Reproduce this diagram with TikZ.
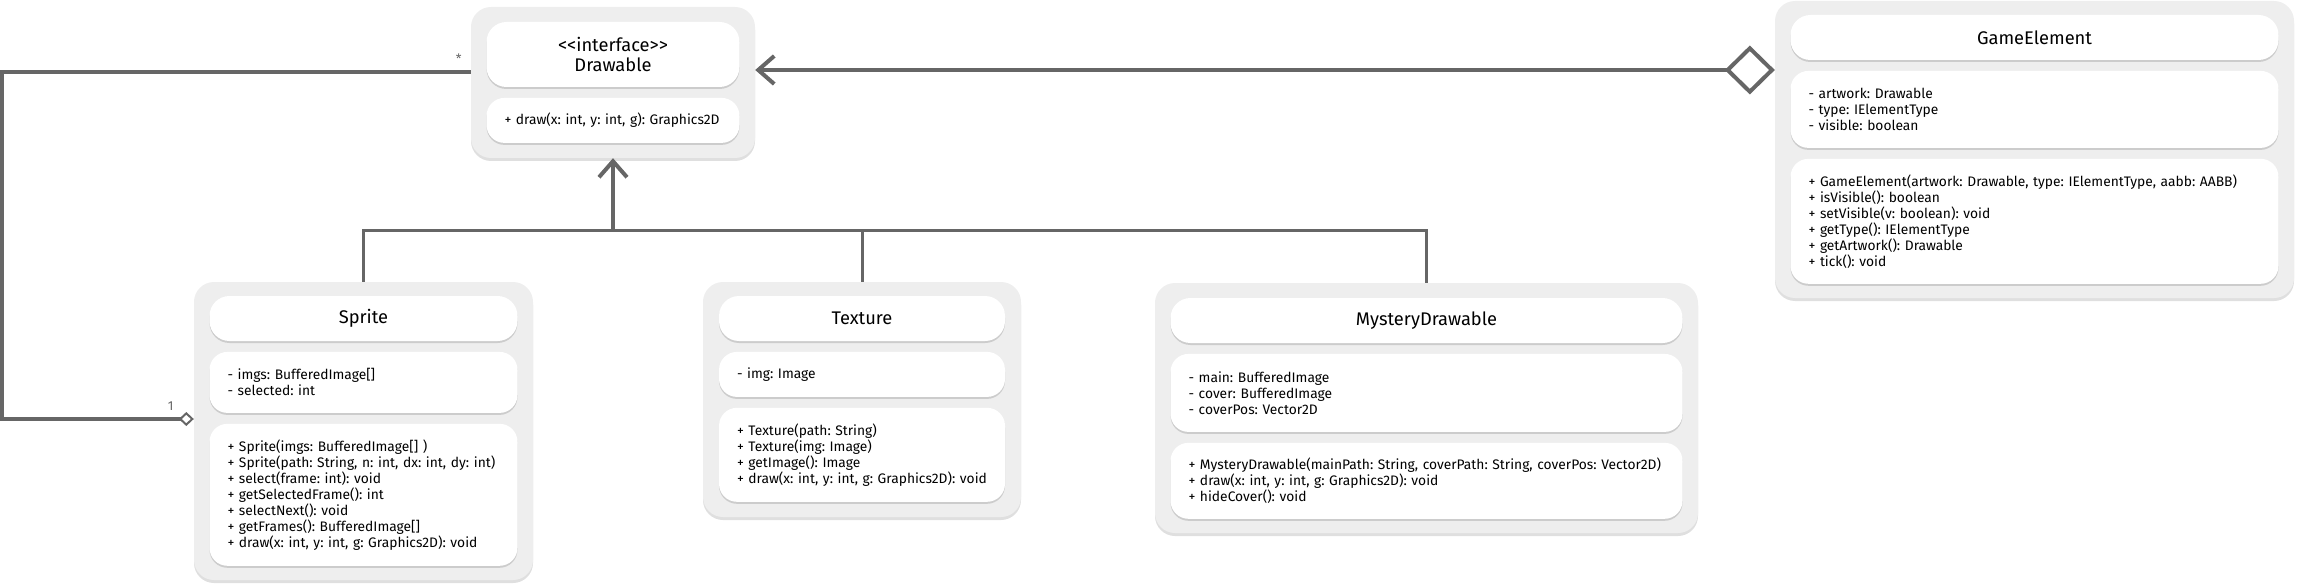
\documentclass[tikz,border=0pt]{standalone}
\usepackage{fontspec}
\setmainfont{Fira Sans}
\usetikzlibrary{positioning,arrows,arrows.meta,calc,shadows}
\definecolor{linegray}{HTML}{666666}
\definecolor{panelgray}{HTML}{EEEEEE}
\frenchspacing

\begin{document}
\begin{tikzpicture}[
      x=1pt, y=1pt,
      >=latex',
      node distance=10.5pt
    ]

    \tikzstyle{classbox} = [rectangle, rounded corners=20pt, fill=panelgray, drop shadow={shadow xshift=0pt, shadow yshift=-3pt, opacity=0.25}]
    \tikzstyle{titlebox} = [rectangle, rounded corners=20pt, fill=white, inner sep=0pt, align=center, font=\fontsize{18.3}{20}\selectfont, drop shadow={shadow xshift=0pt, shadow yshift=-2pt, opacity=0.3}]
    \tikzstyle{memberbox} = [rectangle, rounded corners=18pt, fill=white, inner xsep=18pt, inner ysep=0pt, align=left, font=\fontsize{13.8}{16}\selectfont, drop shadow={shadow xshift=0pt, shadow yshift=-2pt, opacity=0.3}]
    \tikzstyle{link} = [draw=linegray, line width=4pt]
    \tikzstyle{branch} = [draw=linegray, line width=3pt]

    \useasboundingbox (0,0) rectangle (2298,-588);

    % interface
    \node [classbox, minimum width=284pt, minimum height=151pt] (drawable) at (613,-82.5) {};
    \node [titlebox, minimum width=253pt, minimum height=65pt, below=15pt of drawable.north] (drawableTitle) {<\kern0pt<interface>\kern0pt>\\Drawable};
    \node [memberbox, text width=217pt, minimum height=45pt, below=of drawableTitle] (drawableOps) {+ draw(x: int, y: int, g): Graphics2D};

    % game element
    \node [classbox, minimum width=519pt, minimum height=297pt] (gameelement) at (2034.5,-149.5) {};
    \node [titlebox, minimum width=488pt, minimum height=45pt, below=14pt of gameelement.north] (gameTitle) {GameElement};
    \node [memberbox, text width=452pt, minimum height=77pt, below=of gameTitle] (gameAttr) {- artwork: Drawable\\- type: IElementType\\- visible: boolean};
    \node [memberbox, text width=452pt, minimum height=125pt, below=of gameAttr] (gameOps) {+ GameElement(artwork: Drawable, type: IElementType, aabb: AABB)\\+ isVisible(): boolean\\+ setVisible(v: boolean): void\\+ getType(): IElementType\\+ getArtwork(): Drawable\\+ tick(): void};

    % sprite
    \node [classbox, minimum width=339pt, minimum height=298pt] (sprite) at (363.5,-431) {};
    \node [titlebox, minimum width=308pt, minimum height=45pt, below=14pt of sprite.north] (spriteTitle) {Sprite};
    \node [memberbox, text width=272pt, minimum height=61pt, below=of spriteTitle] (spriteAttr) {- imgs: BufferedImage[]\\- selected: int};
    \node [memberbox, text width=272pt, minimum height=142pt, below=of spriteAttr] (spriteOps) {+ Sprite(imgs: BufferedImage[] )\\+ Sprite(path: String, n: int, dx: int, dy: int)\\+ select(frame: int): void\\+ getSelectedFrame(): int\\+ selectNext(): void\\+ getFrames(): BufferedImage[]\\+ draw(x: int, y: int, g: Graphics2D): void};

    % texture
    \node [classbox, minimum width=318pt, minimum height=235pt] (texture) at (862,-399.5) {};
    \node [titlebox, minimum width=286pt, minimum height=45pt, below=14pt of texture.north] (textureTitle) {Texture};
    \node [memberbox, text width=250pt, minimum height=45pt, below=of textureTitle] (textureAttr) {- img: Image};
    \node [memberbox, text width=250pt, minimum height=94pt, below=of textureAttr] (textureOps) {+ Texture(path: String)\\+ Texture(img: Image)\\+ getImage(): Image\\+ draw(x: int, y: int, g: Graphics2D): void};

    % mystery drawable
    \node [classbox, minimum width=543pt, minimum height=250pt] (mystery) at (1426.5,-408) {};
    \node [titlebox, minimum width=512pt, minimum height=45pt, below=15pt of mystery.north] (mysteryTitle) {MysteryDrawable};
    \node [memberbox, text width=476pt, minimum height=78pt, below=of mysteryTitle] (mysteryAttr) {- main: BufferedImage\\- cover: BufferedImage\\- coverPos: Vector2D};
    \node [memberbox, text width=476pt, minimum height=76pt, below=of mysteryAttr] (mysteryOps) {\mbox{+ MysteryDrawable(mainPath: String, coverPath: String, coverPos: Vector2D)}\\+ draw(x: int, y: int, g: Graphics2D): void\\+ hideCover(): void};

    % aggregation
    \coordinate (aggEnd) at ($(drawable.east)+(0,12.5)$);
    \draw [link, {Diamond[fill=white,length=50pt,width=49pt]}-{Straight Barb[length=16pt,width=28pt]}] (gameelement.west |- aggEnd) -- (aggEnd);

    % association
    \coordinate (assocStart) at ($(drawable.west)+(0,10.5)$);
    \coordinate (leftRail) at (2,-250);
    \coordinate (assocEnd) at ($(sprite.west)+(0,12)$);
    \draw [link, -{Diamond[fill=white,length=15pt,width=14pt,line width=2pt]}] (assocStart) -| (leftRail) |- (assocEnd);
    \node [text=linegray, font=\fontsize{13}{15}\selectfont] (many) at ($(assocStart)+(-12,13)$) {*};
    \node [text=linegray, font=\fontsize{13}{15}\selectfont] (one) at ($(assocEnd)+(-23,13)$) {1};

    % realization
    \coordinate (bus) at (0,-230);
    \draw [branch] (sprite.north) -- (sprite.north |- bus) -| (mystery.north);
    \draw [branch] (texture.north) -- (texture.north |- bus);
    \draw [link, -{Straight Barb[length=16pt,width=28pt]}] (drawable.south |- bus) -- (drawable.south);

\end{tikzpicture}
\end{document}
